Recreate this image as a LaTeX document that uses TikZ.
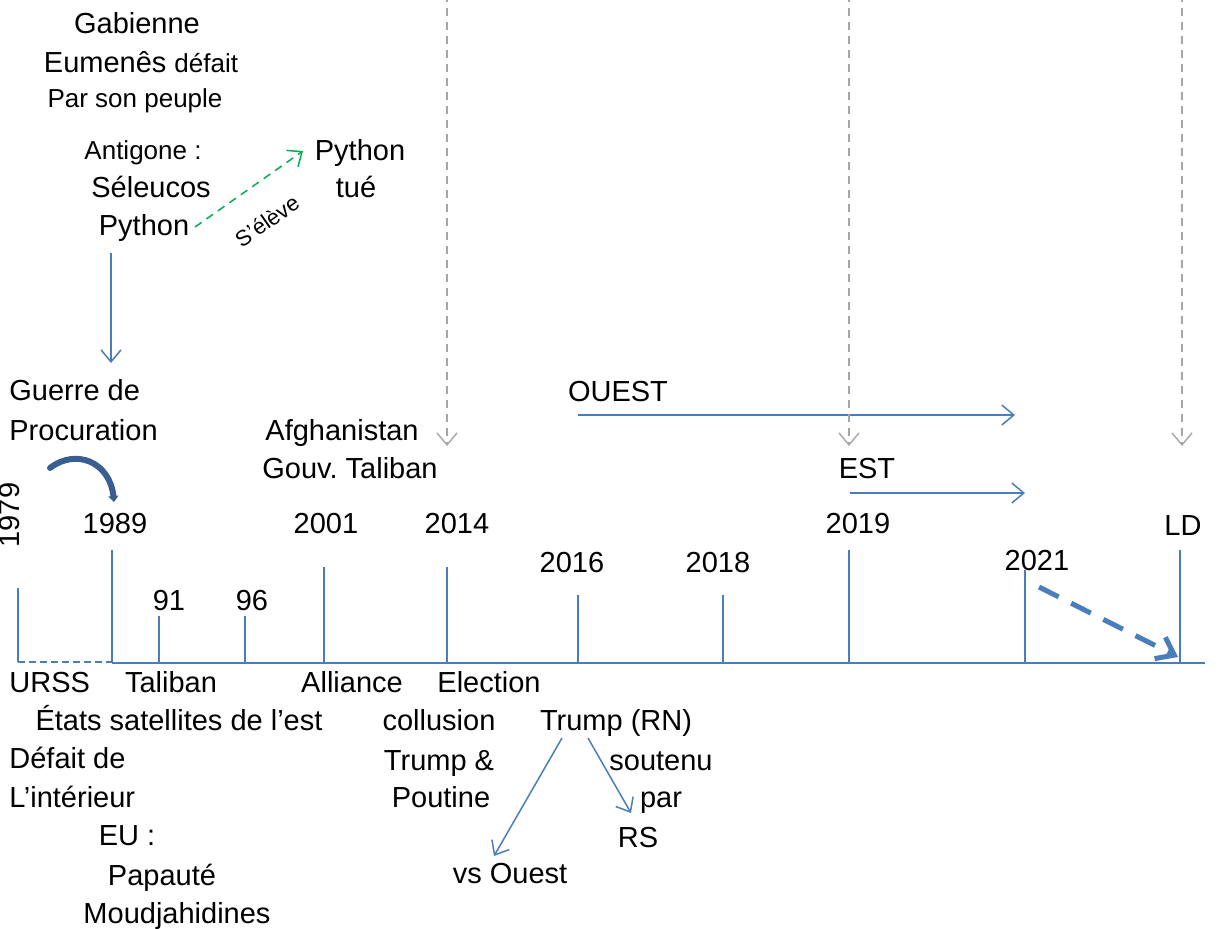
\documentclass[tikz,border=0pt]{standalone}
\usepackage{fontspec}
\setmainfont{Liberation Sans}
\usetikzlibrary{arrows.meta,positioning,calc}
\definecolor{ink}{HTML}{000000}
\definecolor{axis}{HTML}{4A7EBB}
\definecolor{deep}{HTML}{3A5F8E}
\definecolor{rise}{HTML}{00B050}
\definecolor{fade}{HTML}{A6A6A6}
\tikzset{
  >={Straight Barb[length=6pt,width=10pt]},
  every node/.style={text=ink, inner sep=0pt},
  big/.style={font=\fontsize{14.5}{17}\selectfont, text height=10.4pt, text depth=0pt},
  small/.style={font=\fontsize{13}{15}\selectfont, text height=9.3pt, text depth=0pt},
  tiny/.style={font=\fontsize{11}{13}\selectfont, text height=7.9pt, text depth=0pt},
  flow/.style={->, draw=axis, line width=0.75pt},
  ghost/.style={->, draw=fade, line width=0.7pt, dash pattern=on 4pt off 3pt},
  tick/.style={draw=axis, line width=0.85pt},
}

\begin{document}
\frenchspacing
\begin{tikzpicture}[x=0.5pt,y=-0.5pt]
\useasboundingbox (0,0) rectangle (1228,928);

% ================= top left: Gabienne =================
\node[big] (gab) at (137,23) {Gabienne};
\node[big] (eum) at (141,62) {Eumenês {\fontsize{13}{15}\selectfont défait}};
\node[small] (peuple) at (135,98) {Par son peuple};
\node[small] (antig) at (143,150) {Antigone :};
\node[big] (seleu) at (151,187) {Séleucos};
\node[big] (py) at (144,225) {Python};
\node[big] (pykill) at (360,150) {Python};
\node[big] (tue) at (356,187) {tué};

% python rises
\coordinate (riseA) at (195,227);
\coordinate (riseB) at (303,151);
\draw[->, rise, line width=0.75pt, dash pattern=on 4pt off 3pt] (riseA) -- (riseB);
\node[tiny, rotate=35] (eleve) at (267,221) {S’élève};

% down to the proxy war
\coordinate (dropA) at (111,253);
\coordinate (dropB) at (111,363);
\draw[flow] (dropA) -- (dropB);
\node[big, anchor=west] (guerre) at (9,390) {Guerre de};
\node[big, anchor=west] (procur) at (9,430) {Procuration};

\coordinate (bendA) at (50,468);
\coordinate (bendB) at (114,502);
\draw[deep, line width=3pt, line cap=round, -{Triangle[length=3pt,width=5pt]}]
  (bendA) .. controls (76,448) and (110,462) .. (bendB);

% ================= middle: West / East =================
\node[big] (afgh) at (342,430) {Afghanistan};
\node[big] (gouv) at (350,468) {Gouv. Taliban};

\node[big] (ouest) at (618,391) {OUEST};
\coordinate (ouestA) at (578,415);
\coordinate (ouestB) at (1015,415);
\draw[flow] (ouestA) -- (ouestB);

\node[big] (est) at (867,468) {EST};
\coordinate (estA) at (850,493);
\coordinate (estB) at (1025,493);
\draw[flow] (estA) -- (estB);

% grey arrows from above
\foreach \x/\nm in {447/a, 849/b, 1182/c}{
  \coordinate (g\nm top) at (\x,-6);
  \coordinate (g\nm end) at (\x,446);
  \draw[ghost] (g\nm top) -- (g\nm end);
}

% ================= timeline =================
\coordinate (lineA) at (18,662);
\coordinate (lineB) at (112,663);
\coordinate (lineC) at (1205,663);
\draw[axis, line width=0.85pt, dash pattern=on 3.5pt off 2pt] (lineA) -- (lineB |- lineA);
\draw[tick] (lineB) -- (lineC);

\foreach \x/\top in {18/588, 112/550, 159/616, 245/616, 324/567, 447/567,
                     578/595, 723/595, 849/550, 1025/570, 1180/550}{
  \draw[tick] (\x,\top) -- (\x,662);
}

\node[big, rotate=90] (y1979) at (9,515) {1979};
\foreach \x/\y/\lab in {115/523/1989, 169/600/91, 252/600/96, 326/523/2001,
                        457/523/2014, 572/562/2016, 718/562/2018, 858/523/2019,
                        1037/560/2021}{
  \node[big] (y\lab) at (\x,\y) {\lab};
}
\node[big] (yLD) at (1183,525) {LD};

% towards LD
\coordinate (ldA) at (1039,587);
\coordinate (ldB) at (1178,657);
\draw[axis, line width=2.5pt, dash pattern=on 11pt off 7pt,
      -{Straight Barb[length=8pt,width=12pt]}] (ldA) -- (ldB);

% ================= below the line =================
\node[big, anchor=west] (urss) at (9,682) {URSS};
\node[big] (talib) at (171,682) {Taliban};
\node[big] (allia) at (352,682) {Alliance};
\node[big] (elect) at (489,682) {Election};
\node[big] (etats) at (179,720) {États satellites de l’est};
\node[big, anchor=west] (defait) at (9,758) {Défait de};
\node[big, anchor=west] (inter) at (9,797) {L’intérieur};
\node[big] (eu) at (127,835) {EU :};
\node[big] (papa) at (162,875) {Papauté};
\node[big] (moudj) at (177,913) {Moudjahidines};

\node[big] (collu) at (439,720) {collusion};
\node[big] (trumpet) at (439,760) {Trump \&};
\node[big] (pout) at (441,797) {Poutine};

\node[big] (trumprn) at (616,720) {Trump (RN)};
\node[big] (sout) at (661,760) {soutenu};
\node[big] (par) at (661,797) {par};
\node[big] (rs) at (638,837) {RS};
\node[big] (vsouest) at (510,873) {vs Ouest};

\coordinate (splitL) at (562,738);
\coordinate (splitR) at (588,738);
\coordinate (endL) at (494,856);
\coordinate (endR) at (631,813);
\draw[flow] (splitL) -- (endL);
\draw[flow] (splitR) -- (endR);

\end{tikzpicture}
\end{document}
